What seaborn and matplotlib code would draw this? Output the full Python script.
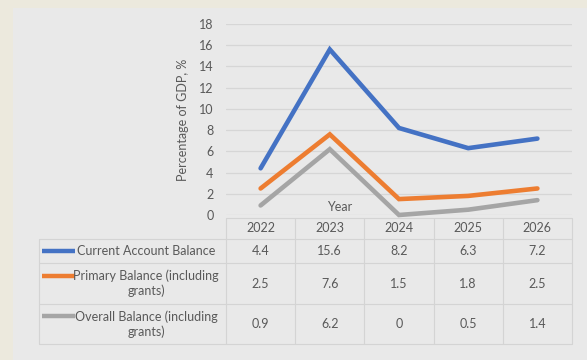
import matplotlib
matplotlib.use("Agg")
import matplotlib.pyplot as plt
from matplotlib.lines import Line2D
from matplotlib.patches import Rectangle
import seaborn as sns
import pandas as pd

years = ["2022", "2023", "2024", "2025", "2026"]
series_names = [
    "Current Account Balance",
    "Primary Balance (including\ngrants)",
    "Overall Balance (including\ngrants)",
]
current_account = [4.4, 15.6, 8.2, 6.3, 7.2]
primary_balance = [2.5, 7.6, 1.5, 1.8, 2.5]
overall_balance = [0.9, 6.2, 0, 0.5, 1.4]
y_ticks = [0, 2, 4, 6, 8, 10, 12, 14, 16, 18]

colors = ["#4472C4", "#ED7D31", "#A5A5A5"]
text_color = "#595959"
grid_color = "#d6d6d6"
panel_color = "#e9e9e9"
outer_color = "#ece9dd"
fs = 9

all_values = [current_account, primary_balance, overall_balance]
df = pd.DataFrame({
    "Year": years * 3,
    "Value": current_account + primary_balance + overall_balance,
    "Series": [n for n in series_names for _ in years],
})

sns.set_theme(style="white")
plt.rcParams["font.family"] = ["Lato", "DejaVu Sans"]

W, H = 587, 360
fig = plt.figure(figsize=(W / 100, H / 100), dpi=100)
fig.patch.set_facecolor(outer_color)


def fx(x):
    return x / W


def fy(y):
    return 1 - y / H


# light panel behind the chart
fig.add_artist(Rectangle((fx(13), 0), 1 - fx(13), fy(8), transform=fig.transFigure,
                         facecolor=panel_color, edgecolor="none", zorder=0))

x0, x1 = 226, 572
ytop, ybot = 24, 215
ax = fig.add_axes([fx(x0), fy(ybot), fx(x1) - fx(x0), fy(ytop) - fy(ybot)])
ax.set_facecolor("none")

sns.lineplot(data=df, x="Year", y="Value", hue="Series", palette=colors,
             linewidth=3.3, ax=ax, legend=False, sort=False)
for ln in ax.get_lines():
    ln.set_solid_capstyle("round")
    ln.set_solid_joinstyle("miter")
    ln.set_clip_on(False)

ax.set_xlim(-0.5, len(years) - 0.5)
ax.set_ylim(0, 18)
ax.set_yticks(y_ticks)
ax.set_yticklabels([str(t) for t in y_ticks], color=text_color, fontsize=fs)
ax.set_xticks([])
ax.set_xlabel("")
ax.set_ylabel("Percentage of GDP, %", color=text_color, fontsize=fs, labelpad=7)
ax.tick_params(axis="y", length=0, pad=9)
for s in ax.spines.values():
    s.set_visible(False)
ax.grid(axis="y", color=grid_color, linewidth=0.9)
ax.set_axisbelow(True)

fig.text(fx(340), fy(207), "Year", color=text_color, fontsize=fs,
         ha="center", va="center")

# data table under the plot
row_lines = [218, 239, 263, 304, 344]
col_lines = [x0 + i * (x1 - x0) / len(years) for i in range(len(years) + 1)]
tbl_left = 39
line_kw = dict(transform=fig.transFigure, color="#d4d4d4", linewidth=0.8)
for i, yv in enumerate(row_lines):
    left = x0 if i == 0 else tbl_left
    fig.add_artist(Line2D([fx(left), fx(x1)], [fy(yv), fy(yv)], **line_kw))
for i, xv in enumerate(col_lines):
    fig.add_artist(Line2D([fx(xv), fx(xv)], [fy(row_lines[0]), fy(row_lines[-1])], **line_kw))
fig.add_artist(Line2D([fx(tbl_left), fx(tbl_left)], [fy(row_lines[1]), fy(row_lines[-1])], **line_kw))

for j, yr in enumerate(years):
    cx = (col_lines[j] + col_lines[j + 1]) / 2
    fig.text(fx(cx), fy((row_lines[0] + row_lines[1]) / 2), yr, color=text_color,
             fontsize=fs, ha="center", va="center")

for i, (name, vals, col) in enumerate(zip(series_names, all_values, colors)):
    top, bot = row_lines[i + 1], row_lines[i + 2]
    cy = (top + bot) / 2
    for j, v in enumerate(vals):
        cx = (col_lines[j] + col_lines[j + 1]) / 2
        fig.text(fx(cx), fy(cy), f"{v:g}", color=text_color, fontsize=fs,
                 ha="center", va="center")
    lines = name.split("\n")
    first_y = cy if len(lines) == 1 else cy - 8
    fig.add_artist(Line2D([fx(42), fx(75)], [fy(first_y), fy(first_y)],
                          transform=fig.transFigure, color=col, linewidth=3.2,
                          solid_capstyle="butt"))
    fig.text(fx(146), fy(cy), name, color=text_color, fontsize=fs,
             ha="center", va="center", linespacing=1.25)

fig.savefig("out.png", dpi=100, facecolor=fig.get_facecolor())
